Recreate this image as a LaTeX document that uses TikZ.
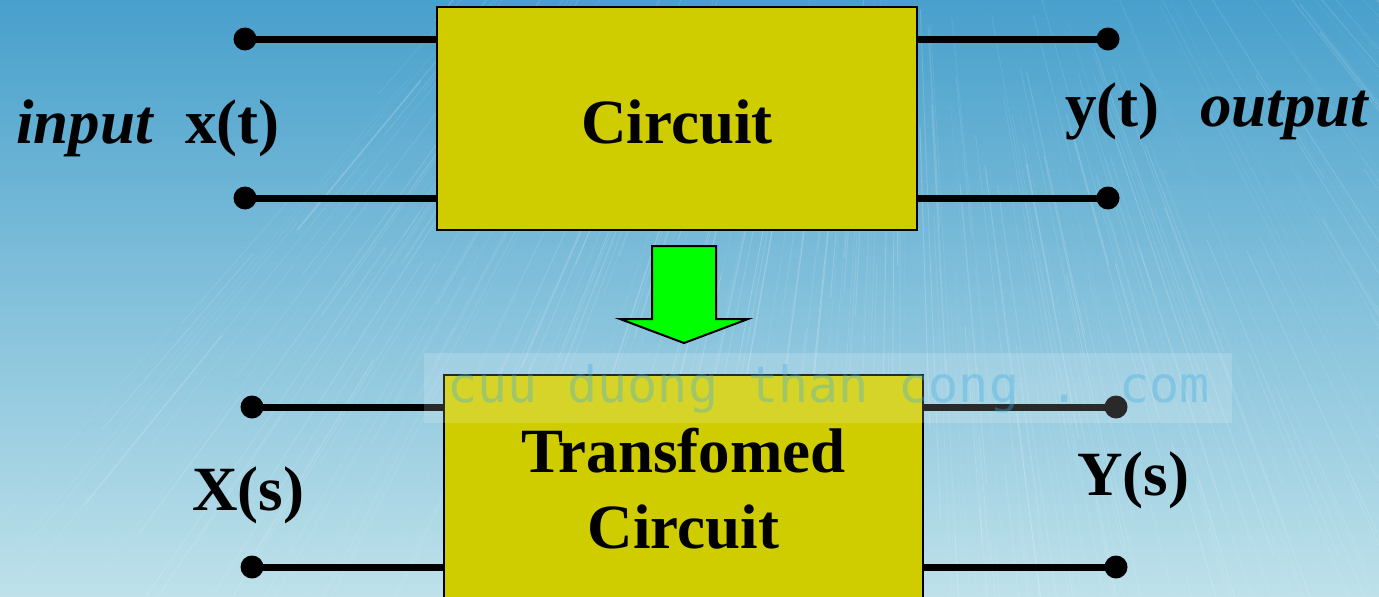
\documentclass[tikz,border=0pt]{standalone}
\usepackage{fontspec}
\usetikzlibrary{calc}
\setmainfont{Liberation Serif}
\newfontfamily\wmfont{DejaVu Sans Mono}
\definecolor{boxyellow}{RGB}{207,204,0}
\definecolor{bgtop}{RGB}{72,160,204}
\definecolor{bgmid}{RGB}{120,186,208}
\definecolor{bgbot}{RGB}{190,225,234}
\definecolor{arrowgreen}{RGB}{0,255,0}
\definecolor{wmblue}{RGB}{60,172,224}
\begin{document}
\begin{tikzpicture}[x=1pt,y=-1pt,
  box/.style={draw=black,line width=2pt,fill=boxyellow,inner sep=0pt},
  wire/.style={line width=7pt,black},
  dotend/.style={circle,fill=black,inner sep=0pt,minimum size=23pt},
  lbl/.style={inner sep=0pt,anchor=base west,font=\fontsize{63}{70}\selectfont\bfseries},
  ilbl/.style={inner sep=0pt,anchor=base west,font=\fontsize{63}{70}\selectfont\bfseries\itshape},
  title/.style={inner sep=0pt,anchor=base,font=\fontsize{63}{70}\selectfont\bfseries},
  bigarrow/.style={draw=black,line width=2pt,fill=arrowgreen,line join=miter}]
\useasboundingbox (0,0) rectangle (1379,597);
\begin{scope}
\clip (0,0) rectangle (1379,597);
% background
\shade[top color=bgtop,middle color=bgmid,bottom color=bgbot] (0,0) rectangle (1379,597);
\pgfmathsetseed{7}
\foreach \i in {1,...,420}{
  \pgfmathsetmacro{\ang}{45+87*rnd}
  \pgfmathsetmacro{\rs}{480+650*rnd}
  \pgfmathsetmacro{\len}{120+420*rnd}
  \pgfmathsetmacro{\op}{0.04+0.14*rnd}
  \pgfmathsetmacro{\lw}{0.3+0.9*rnd}
  \draw[white,opacity=\op,line width=\lw pt] ($(900,-500)+(\ang:\rs)$) -- ($(900,-500)+(\ang:\rs+\len)$);
}
% top circuit
\node[box,minimum width=480pt,minimum height=223pt] (c1) at (677,118.5) {};
\node[title] (t1) at (677,143) {Circuit};
\node[dotend] (a1) at (245,39) {};
\node[dotend] (a2) at (245,198) {};
\node[dotend] (b1) at (1108,39) {};
\node[dotend] (b2) at (1108,198) {};
\draw[wire] (a1.center) -- (a1.center -| c1.west);
\draw[wire] (a2.center) -- (a2.center -| c1.west);
\draw[wire] (b1.center) -- (b1.center -| c1.east);
\draw[wire] (b2.center) -- (b2.center -| c1.east);
\node[ilbl] (in) at (16,143) {input};
\node[lbl] (xt) at (185,143) {x(t)};
\node[lbl] (yt) at (1065,126) {y(t)};
\node[ilbl] (out) at (1200,126) {output};
% arrow
\draw[bigarrow] (652,246) -- (716,246) -- (716,319) -- (748,319) -- (684,343) -- (620,319) -- (652,319) -- cycle;
% bottom circuit
\node[box,minimum width=479pt,minimum height=270pt] (c2) at (683.5,510) {};
\node[title] (t2) at (683.5,472) {Transfomed};
\node[title] (t3) at (683.5,548) {Circuit};
\node[dotend] (p1) at (252,407) {};
\node[dotend] (p2) at (252,567) {};
\node[dotend] (q1) at (1116,407) {};
\node[dotend] (q2) at (1116,567) {};
\draw[wire] (p1.center) -- (p1.center -| c2.west);
\draw[wire] (p2.center) -- (p2.center -| c2.west);
\draw[wire] (q1.center) -- (q1.center -| c2.east);
\draw[wire] (q2.center) -- (q2.center -| c2.east);
\node[lbl] (xs) at (192,510) {X(s)};
\node[lbl] (ys) at (1077,495) {Y(s)};
% watermark
\fill[white,opacity=0.16] (424,353) rectangle (1232,423);
\node[inner sep=0pt,anchor=base west,text=wmblue,opacity=0.34,font=\wmfont\fontsize{50}{55}\selectfont] (wm) at (447,402) {cuu duong than cong . com};
\end{scope}
\end{tikzpicture}
\end{document}
